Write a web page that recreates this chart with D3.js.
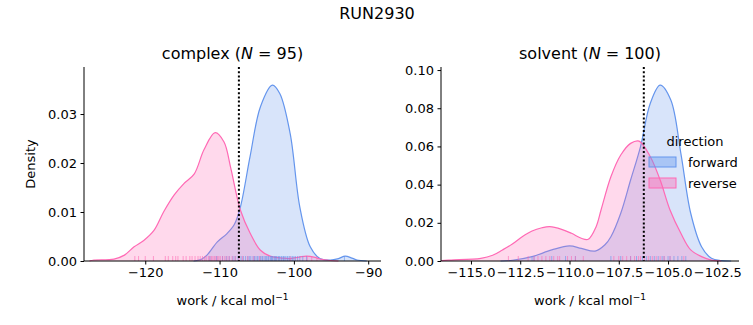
<!DOCTYPE html>
<html>
<head>
<meta charset="utf-8">
<script src="https://cdn.jsdelivr.net/npm/d3@7"></script>
<style>
  body { margin: 0; background: #fff; }
  text { font-family: "DejaVu Sans", sans-serif; fill: #000; }
</style>
</head>
<body>
<svg id="chart" width="753" height="325"></svg>
<script>
// complex: density curves
var complexFwdX = [-113.5, -112.5, -111.7, -110.3, -109.0, -108.0, -107.2, -105.9, -104.5, -102.9, -101.9, -100.5, -99.2, -97.8, -96.5, -95.1, -94.0, -93.1, -92.2, -91.5, -90.2];
var complexFwdY = [0, 0.0003, 0.0012, 0.0039, 0.0056, 0.0075, 0.011, 0.0213, 0.0315, 0.0359, 0.0342, 0.026, 0.011, 0.0029, 0.0005, 0.0002, 0.0005, 0.001, 0.0006, 0.0002, 0];
var complexRevX = [-127.5, -126.9, -124.2, -122.8, -121.5, -120.2, -118.8, -117.5, -116.1, -114.8, -113.4, -112.1, -110.6, -109.4, -108.5, -107.2, -105.9, -104.5, -103.2, -101.5, -100.5, -99.3, -98.3, -97.3, -96.5, -95.1, -94.0];
var complexRevY = [0, 0.0002, 0.0004, 0.0012, 0.0029, 0.0042, 0.0063, 0.0101, 0.0135, 0.0158, 0.0178, 0.0227, 0.0262, 0.0243, 0.019, 0.0104, 0.0057, 0.0022, 0.001, 0.0006, 0.0005, 0.0008, 0.001, 0.0008, 0.0004, 0.0001, 0];
var complexFwdRug = [-111.3, -110.4, -109.6, -109.1, -108.7, -108.2, -107.9, -107.5, -107.1, -106.8, -106.5, -106.2, -106.0, -105.8, -105.5, -105.3, -105.1, -104.9, -104.7, -104.5, -104.3, -104.2, -104.0, -103.8, -103.7, -103.5, -103.4, -103.2, -103.1, -103.0, -102.9, -102.8, -102.6, -102.5, -102.4, -102.3, -102.1, -102.0, -101.9, -101.7, -101.6, -101.4, -101.3, -101.1, -100.9, -100.8, -100.6, -100.4, -100.2, -100.0, -99.8, -99.5, -99.2, -98.8, -98.3, -93.2];
var complexRevRug = [-121.4, -120.9, -120.0, -118.9, -117.3, -116.9, -116.3, -115.9, -115.6, -114.9, -114.5, -114.0, -113.7, -113.3, -112.9, -112.6, -112.3, -112.0, -111.8, -111.5, -111.3, -111.1, -110.9, -110.7, -110.5, -110.3, -110.1, -109.9, -109.6, -109.3, -109.0, -108.7, -108.3, -107.9, -107.4, -106.9, -106.2, -105.4, -104.6, -100.5, -98.2, -97.6, -96.9];
var complexLine = -107.4;

// solvent
var solventFwdX = [-113.5, -112.9, -111.9, -110.9, -110.0, -109.4, -108.7, -108.2, -107.9, -107.4, -106.9, -106.4, -105.9, -105.4, -104.86, -104.35, -103.85, -103.3, -102.8, -102.3, -101.8];
var solventFwdY = [0, 0.0004, 0.0023, 0.0058, 0.0079, 0.0066, 0.0052, 0.0085, 0.0127, 0.025, 0.0424, 0.0598, 0.0826, 0.0921, 0.0843, 0.0564, 0.025, 0.0075, 0.0014, 0.0002, 0];
var solventRevX = [-116.5, -116.0, -114.5, -113.9, -113.4, -112.9, -112.4, -111.9, -111.4, -111.0, -110.4, -109.9, -109.4, -109.05, -108.65, -108.4, -107.9, -107.4, -106.9, -106.47, -105.9, -105.4, -104.9, -104.35, -103.85, -103.3, -102.8, -102.3];
var solventRevY = [0.0002, 0.0005, 0.0014, 0.003, 0.0058, 0.0089, 0.0127, 0.0157, 0.0174, 0.018, 0.0166, 0.0145, 0.0119, 0.0114, 0.018, 0.0267, 0.0441, 0.0555, 0.0616, 0.0628, 0.0546, 0.0424, 0.0267, 0.0145, 0.0058, 0.0023, 0.0005, 0];
var solventFwdRug = [-111.9, -111.8, -110.9, -110.2, -109.7, -107.9, -107.4, -106.9, -106.6, -106.3, -106.1, -105.9, -105.7, -105.5, -105.3, -105.2, -105.0, -104.9, -104.7, -104.5, -104.3, -104.1];
var solventRevRug = [-113.1, -112.6, -112.1, -111.8, -111.6, -111.4, -111.2, -111.0, -110.8, -110.6, -110.5, -110.1, -109.9, -109.7, -109.3, -107.75, -107.5, -107.3, -107.1, -106.9, -106.7, -106.5, -106.4, -106.2, -106.0, -105.8, -105.6, -105.4, -105.2, -104.9, -104.2];
var solventLine = -106.23;

var fwdColor = "#6495ED", revColor = "#FF69B4";

var svg = d3.select("#chart");

svg.append("text")
  .attr("x", 377)
  .attr("y", 19)
  .attr("text-anchor", "middle")
  .style("font-size", "16px")
  .text("RUN2930");

function drawPanel(p) {
  var x = d3.scaleLinear().domain(p.xDomain).range([p.left, p.right]);
  var y = d3.scaleLinear().domain(p.yDomain).range([261, 67]);
  var g = svg.append("g");

  var area = d3.area()
    .x(function (d) { return x(d[0]); })
    .y0(y(0))
    .y1(function (d) { return Math.min(y(0), y(d[1])); })
    .curve(d3.curveCatmullRom.alpha(0.5));
  var line = d3.line()
    .x(function (d) { return x(d[0]); })
    .y(function (d) { return y(d[1]); })
    .curve(d3.curveCatmullRom.alpha(0.5));

  p.series.forEach(function (s) {
    var pts = d3.zip(s.x, s.y);
    g.append("path").datum(pts).attr("d", area)
      .style("fill", s.color).style("fill-opacity", 0.25).style("stroke", "none");
    g.append("path").datum(pts).attr("d", line)
      .style("fill", "none").style("stroke", s.color).style("stroke-width", 1.2);
  });

  // rug
  p.series.forEach(function (s) {
    g.selectAll(null).data(s.rug).enter().append("line")
      .attr("x1", function (d) { return x(d); })
      .attr("x2", function (d) { return x(d); })
      .attr("y1", 261)
      .attr("y2", 256)
      .style("stroke", s.color)
      .style("stroke-opacity", 0.6)
      .style("stroke-width", 1);
  });

  // dotted line
  g.append("line")
    .attr("x1", x(p.vline)).attr("x2", x(p.vline))
    .attr("y1", 67).attr("y2", 261)
    .style("stroke", "#000")
    .style("stroke-width", 2)
    .style("stroke-dasharray", "2,2.2");

  var xAxis = g.append("g")
    .attr("transform", "translate(0,261)")
    .call(d3.axisBottom(x).tickValues(p.xTicks).tickSize(3.5).tickPadding(3.5)
      .tickFormat(function (d) { return d3.format(p.xFmt)(d).replace("-", "\u2212"); }));
  var yAxis = g.append("g")
    .attr("transform", "translate(" + p.left + ",0)")
    .call(d3.axisLeft(y).tickValues(p.yTicks).tickSize(3.5).tickPadding(3.5)
      .tickFormat(d3.format(p.yFmt)));
  [xAxis, yAxis].forEach(function (a) {
    a.select(".domain").attr("stroke", "#000").attr("stroke-width", 1);
    a.selectAll(".tick line").attr("stroke", "#000");
    a.selectAll(".tick text").style("font-size", "13px").attr("fill", "#000")
      .style("font-family", "DejaVu Sans");
  });
  xAxis.select(".domain").attr("d", "M" + p.left + ",0H" + p.right);
  yAxis.select(".domain").attr("d", "M0,261V67");

  var cx = (p.left + p.right) / 2;
  var t = svg.append("text")
    .attr("x", cx).attr("y", 59)
    .attr("text-anchor", "middle")
    .style("font-size", "16px");
  t.append("tspan").text(p.name + " (");
  t.append("tspan").style("font-style", "italic").text("N");
  t.append("tspan").text(" = " + p.n + ")");

  var xl = svg.append("text")
    .attr("x", cx).attr("y", 305)
    .attr("text-anchor", "middle")
    .style("font-size", "13px");
  xl.append("tspan").text("work / kcal mol");
  xl.append("tspan").attr("dy", -5).style("font-size", "9px").text("\u22121");
}

drawPanel({
  name: "complex", n: 95,
  left: 84, right: 381,
  xDomain: [-128.24, -88.28], yDomain: [0, 0.0396],
  xTicks: [-120, -110, -100, -90], xFmt: "d",
  yTicks: [0, 0.01, 0.02, 0.03], yFmt: ".2f",
  vline: complexLine,
  series: [
    {x: complexFwdX, y: complexFwdY, rug: complexFwdRug, color: fwdColor},
    {x: complexRevX, y: complexRevY, rug: complexRevRug, color: revColor}
  ]
});

drawPanel({
  name: "solvent", n: 100,
  left: 441, right: 739,
  xDomain: [-116.52, -101.4], yDomain: [0, 0.1016],
  xTicks: [-115, -112.5, -110, -107.5, -105, -102.5], xFmt: ".1f",
  yTicks: [0, 0.02, 0.04, 0.06, 0.08, 0.1], yFmt: ".2f",
  vline: solventLine,
  series: [
    {x: solventFwdX, y: solventFwdY, rug: solventFwdRug, color: fwdColor},
    {x: solventRevX, y: solventRevY, rug: solventRevRug, color: revColor}
  ]
});

// y label
svg.append("text")
  .attr("transform", "translate(35,164)rotate(-90)")
  .attr("text-anchor", "middle")
  .style("font-size", "13px")
  .text("Density");

// legend
var legend = svg.append("g");
legend.append("text")
  .attr("x", 695).attr("y", 146)
  .attr("text-anchor", "middle")
  .style("font-size", "13px")
  .text("direction");
var legendItems = [["forward", fwdColor], ["reverse", revColor]];
legendItems.forEach(function (d, i) {
  legend.append("rect")
    .attr("x", 649).attr("y", 157 + i * 21)
    .attr("width", 27).attr("height", 10)
    .style("fill", d[1]).style("fill-opacity", 0.4)
    .style("stroke", d[1]).style("stroke-width", 1);
  legend.append("text")
    .attr("x", 688).attr("y", 167 + i * 21)
    .style("font-size", "13px")
    .text(d[0]);
});
</script>
</body>
</html>
